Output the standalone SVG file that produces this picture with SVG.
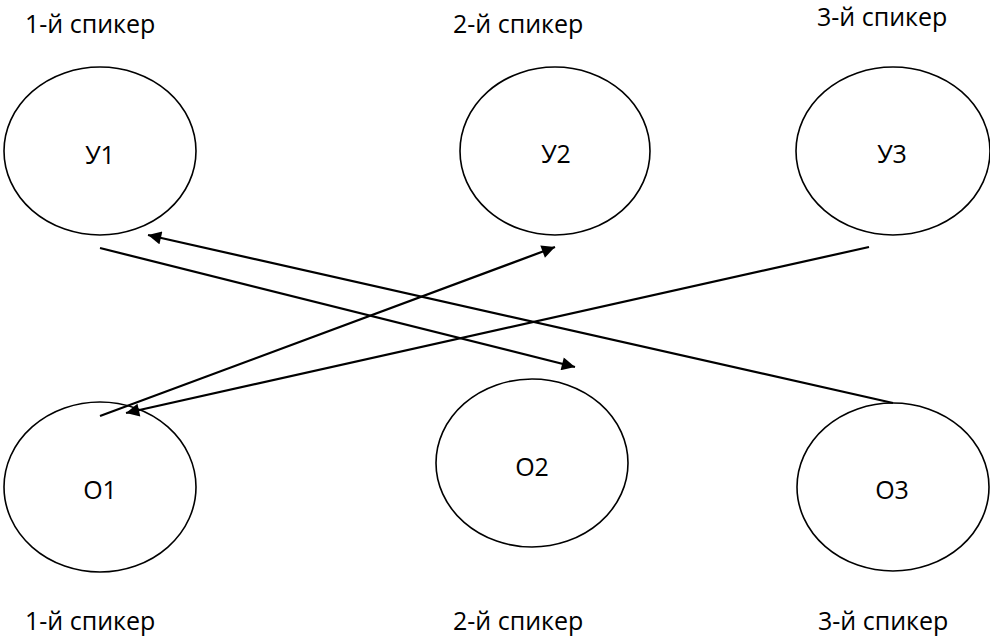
<svg xmlns="http://www.w3.org/2000/svg" width="990" height="644" viewBox="0 0 990 644">
<style>
text{font-family:"Open Sans","Liberation Sans",sans-serif;font-size:25px;fill:#000}
.n{text-anchor:middle}
ellipse{fill:none;stroke:#000;stroke-width:1.6}
.c line{stroke:#000;stroke-width:2.2}
</style>
<defs>
<marker id="ah" viewBox="0 0 10 10" refX="10" refY="5" markerWidth="7" markerHeight="6" markerUnits="strokeWidth" orient="auto">
<path d="M0,0 L10,5 L0,10 z" fill="#000"/>
</marker>
</defs>
<rect width="990" height="644" fill="#fff"/>
<g id="labels">
<text x="25" y="33">1-й спикер</text>
<text x="453" y="33">2-й спикер</text>
<text x="817" y="26">3-й спикер</text>
<text x="25" y="630">1-й спикер</text>
<text x="453" y="630">2-й спикер</text>
<text x="818" y="630">3-й спикер</text>
</g>
<g id="U1"><ellipse cx="100" cy="151" rx="96" ry="84"/><text class="n" x="100" y="164">У1</text></g>
<g id="U2"><ellipse cx="555" cy="151" rx="95" ry="84"/><text class="n" x="556" y="163">У2</text></g>
<g id="U3"><ellipse cx="893" cy="151" rx="97" ry="84"/><text class="n" x="892" y="163">У3</text></g>
<g id="O1"><ellipse cx="100" cy="487" rx="96" ry="85"/><text class="n" x="100" y="499">О1</text></g>
<g id="O2"><ellipse cx="532" cy="463" rx="96" ry="84"/><text class="n" x="532" y="476">О2</text></g>
<g id="O3"><ellipse cx="893" cy="487" rx="96" ry="84"/><text class="n" x="892" y="499">О3</text></g>
<g class="c" id="connectors">
<line x1="100" y1="248" x2="575" y2="367" marker-end="url(#ah)"/>
<line x1="100" y1="416" x2="555" y2="247" marker-end="url(#ah)"/>
<line x1="893" y1="403" x2="148" y2="235" marker-end="url(#ah)"/>
<line x1="869" y1="247" x2="126" y2="413" marker-end="url(#ah)"/>
</g>
</svg>
